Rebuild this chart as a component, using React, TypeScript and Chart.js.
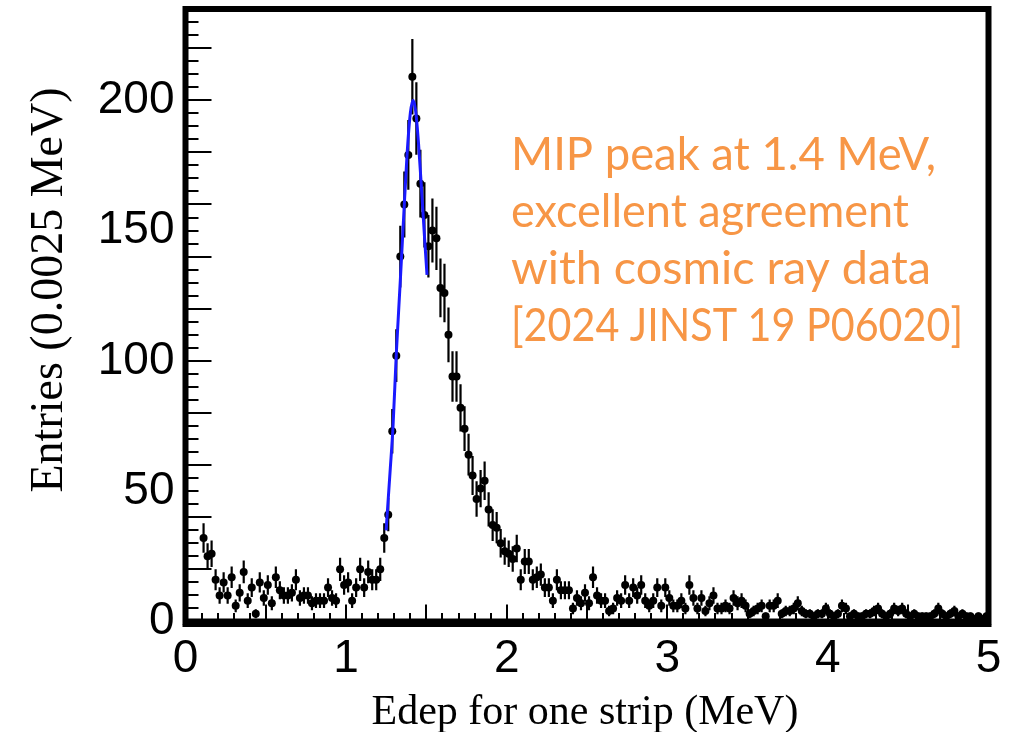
import React, { useEffect, useRef } from "react";
import { Chart, registerables } from "chart.js";
Chart.register(...registerables);

// Histogram definition: bins of 0.025 MeV starting at 0.1 MeV
const binStart = 0.1;
const binWidth = 0.025;
const counts = [
  32, 25, 26, 16, 10, 15, 10, 17, 6, 11,
  19, 8, 13, 3, 15, 9, 14, 7, 17, 12,
  10, 10, 11, 16, 9, 10, 10, 7, 8, 8,
  8, 13, 9, 8, 20, 14, 15, 8, 13, 20,
  13, 19, 16, 16, 20, 32, 41, 73, 102, 140,
  160, 179, 209, 193, 168, 156, 144, 150, 147, 128,
  126, 110, 94, 94, 82, 74, 64, 56, 47, 51,
  54, 43, 37, 36, 30, 27, 26, 24, 28, 16,
  23, 23, 16, 17, 18, 13, 13, 8, 16, 12,
  12, 12, 5, 9, 7, 11, 7, 17, 10, 8,
  8, 4, 5, 9, 8, 14, 8, 13, 10, 14,
  8, 6, 8, 13, 6, 13, 9, 6, 6, 8,
  5, 14, 9, 5, 9, 4, 7, 10, 5, 5,
  6, 5, 9, 7, 8, 6, 3, 4, 5, 6,
  2, 6, 6, 8, 3, 4, 4, 5, 7, 4,
  3, 3, 2, 3, 3, 5, 3, 2, 3, 6,
  5, 2, 3, 2, 2, 3, 3, 4, 5, 3,
  2, 3, 5, 4, 5, 3, 2, 3, 2, 2,
  2, 2, 3, 5, 3, 2, 3, 4, 2, 3,
  2, 2, 1, 2, 1, 2,
];

// Fit curve (MeV, entries)
const fitX = [1.249, 1.2755, 1.2923, 1.3128, 1.3377, 1.3582, 1.3794, 1.3999, 1.4167, 1.4328, 1.4515, 1.4726, 1.4888, 1.5037];
const fitY = [35, 59, 75, 103, 131, 155, 179, 195, 200, 196, 183, 163, 147, 133];

const xTickLabels = [0, 1, 2, 3, 4, 5];
const yTickLabels = [0, 50, 100, 150, 200];
const xTitle = "Edep for one strip (MeV)";
const yTitle = "Entries (0.0025 MeV)";
const noteLines = [
  "MIP peak at 1.4 MeV,",
  "excellent agreement",
  "with cosmic ray data",
  "[2024 JINST 19 P06020]",
];
const noteWidths = [425, 398, 420, 452];

export default function App() {
  const ref = useRef<HTMLCanvasElement | null>(null);

  useEffect(() => {
    document.body.style.margin = "0";
    const canvas = ref.current;
    if (!canvas) return;

    const histPoints = counts.map((v, i) => ({ x: binStart + binWidth * (i + 0.5), y: v }));
    const fitPoints = fitX.map((x, i) => ({ x, y: fitY[i] }));

    const errorBars = {
      id: "errorBars",
      beforeDatasetsDraw(chart: any) {
        const { ctx, chartArea } = chart;
        const xs = chart.scales.x;
        const ys = chart.scales.y;
        ctx.save();
        ctx.beginPath();
        ctx.rect(chartArea.left, chartArea.top, chartArea.right - chartArea.left, chartArea.bottom - chartArea.top);
        ctx.clip();
        ctx.strokeStyle = "#000";
        ctx.lineWidth = 2.2;
        histPoints.forEach((p) => {
          const e = Math.sqrt(p.y);
          const px = xs.getPixelForValue(p.x);
          ctx.beginPath();
          ctx.moveTo(px, ys.getPixelForValue(p.y - e));
          ctx.lineTo(px, ys.getPixelForValue(p.y + e));
          ctx.stroke();
        });
        ctx.restore();
      },
    };

    const frame = {
      id: "rootFrame",
      afterDraw(chart: any) {
        const { ctx, chartArea } = chart;
        const xs = chart.scales.x;
        const ys = chart.scales.y;
        ctx.save();
        ctx.strokeStyle = "#000";
        // ticks
        ctx.lineWidth = 2;
        for (let k = 0; k <= 47; k++) {
          const v = k * 5;
          const py = Math.round(ys.getPixelForValue(v));
          const len = v % 20 === 0 ? 26 : 13;
          ctx.beginPath();
          ctx.moveTo(chartArea.left, py);
          ctx.lineTo(chartArea.left + len, py);
          ctx.stroke();
        }
        for (let k = 0; k <= 50; k++) {
          const v = k * 0.1;
          const px = Math.round(xs.getPixelForValue(v));
          const len = k % 5 === 0 ? 17 : 8.5;
          ctx.beginPath();
          ctx.moveTo(px, chartArea.bottom);
          ctx.lineTo(px, chartArea.bottom - len);
          ctx.stroke();
        }
        // frame
        ctx.lineWidth = 6;
        ctx.strokeRect(chartArea.left, chartArea.top, chartArea.right - chartArea.left, chartArea.bottom - chartArea.top);
        ctx.lineWidth = 3;
        ctx.beginPath();
        ctx.moveTo(chartArea.left - 3, chartArea.bottom + 4);
        ctx.lineTo(chartArea.right + 3, chartArea.bottom + 4);
        ctx.stroke();

        // axis titles
        ctx.fillStyle = "#000";
        ctx.textBaseline = "alphabetic";
        ctx.textAlign = "center";
        ctx.font = '42px "Liberation Serif", "Times New Roman", serif';
        ctx.fillText(xTitle, 585, 724);
        ctx.save();
        ctx.translate(62, 290);
        ctx.rotate(-Math.PI / 2);
        ctx.font = '46px "Liberation Serif", "Times New Roman", serif';
        ctx.fillText(yTitle, 0, 0);
        ctx.restore();

        // annotation
        ctx.fillStyle = "#F79646";
        ctx.textAlign = "left";
        ctx.font = "47px Lato";
        noteLines.forEach((line, i) => {
          ctx.fillText(line, 511, 170 + i * 57, noteWidths[i]);
        });
        ctx.restore();
      },
    };

    const chart = new Chart(canvas, {
      type: "scatter",
      data: {
        datasets: [
          {
            type: "line",
            data: fitPoints,
            borderColor: "#1a1aff",
            borderWidth: 3,
            pointRadius: 0,
            cubicInterpolationMode: "monotone",
            fill: false,
            order: 0,
          } as any,
          {
            type: "scatter",
            data: histPoints,
            pointRadius: 4,
            pointBackgroundColor: "#000",
            pointBorderWidth: 0,
            pointBorderColor: "#000",
            order: 1,
          } as any,
        ],
      },
      options: {
        responsive: false,
        animation: false,
        layout: { padding: { left: 0, top: 9, right: 31.5, bottom: 0 } },
        plugins: { legend: { display: false }, tooltip: { enabled: false } },
        scales: {
          x: {
            type: "linear",
            min: 0,
            max: 5,
            afterBuildTicks: (s: any) => {
              s.ticks = xTickLabels.map((v) => ({ value: v }));
            },
            afterFit: (s: any) => {
              s.height = 732 - 621.5;
              s.paddingLeft = 0;
              s.paddingRight = 0;
            },
            ticks: {
              font: { family: '"Liberation Sans", Arial, sans-serif', size: 46 },
              color: "#000",
              padding: 10,
              maxRotation: 0,
              autoSkip: false,
            },
            grid: { display: false, drawTicks: false },
            border: { display: false },
          },
          y: {
            type: "linear",
            min: 0,
            max: 235,
            afterBuildTicks: (s: any) => {
              s.ticks = yTickLabels.map((v) => ({ value: v }));
            },
            afterFit: (s: any) => {
              s.width = 185.5;
              s.paddingTop = 0;
              s.paddingBottom = 0;
            },
            ticks: {
              font: { family: '"Liberation Sans", Arial, sans-serif', size: 46 },
              color: "#000",
              padding: 11,
              autoSkip: false,
            },
            grid: { display: false, drawTicks: false },
            border: { display: false },
          },
        },
      },
      plugins: [errorBars, frame],
    });

    return () => chart.destroy();
  }, []);

  return (
    <div style={{ width: 1020, height: 732, background: "#fff" }}>
      <canvas ref={ref} width={1020} height={732} style={{ display: "block" }} />
    </div>
  );
}
